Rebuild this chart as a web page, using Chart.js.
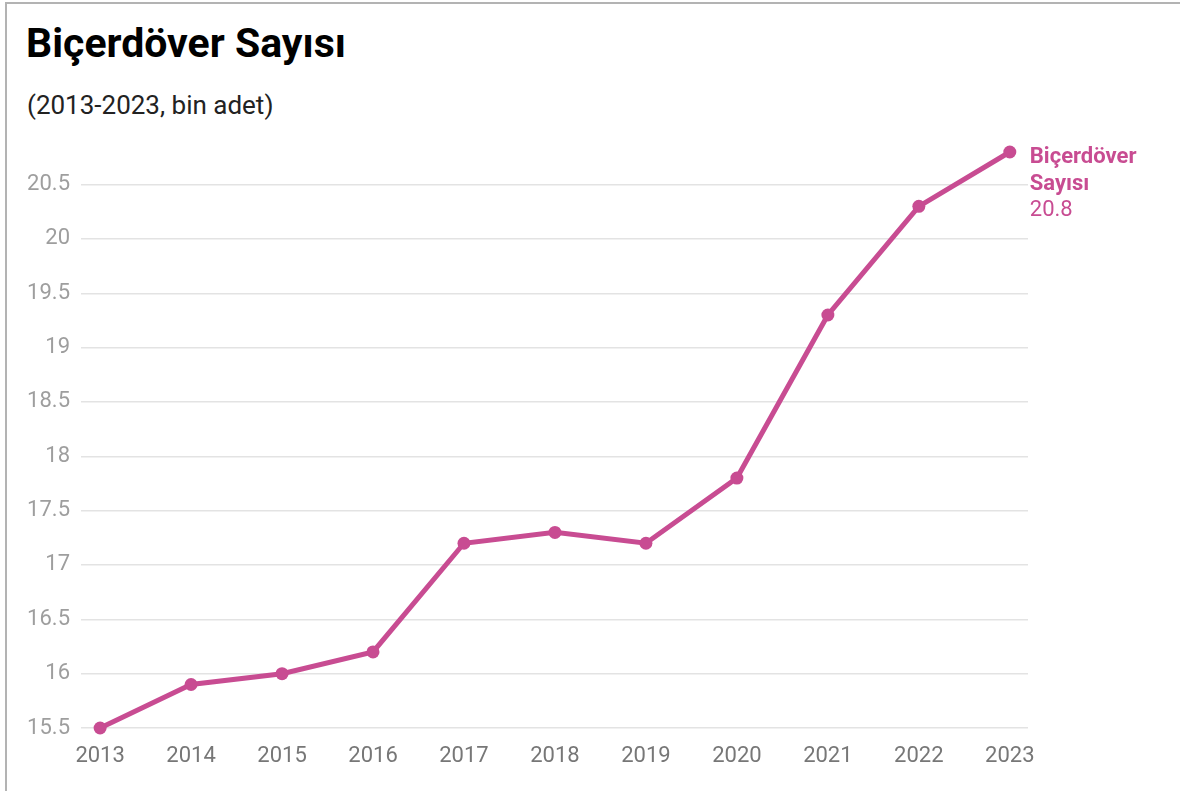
<!DOCTYPE html>
<html lang="tr">
<head>
<meta charset="utf-8">
<title>Biçerdöver Sayısı</title>
<script src="https://cdn.jsdelivr.net/npm/chart.js@4"></script>
<style>
  html, body { margin: 0; padding: 0; background: #fff; }
  body { width: 1180px; height: 791px; position: relative; overflow: hidden; font-family: Roboto, sans-serif; }
  .frame { position: absolute; left: 5px; top: 2px; right: -4px; bottom: -4px; border-left: 2px solid #b3b3b3; border-top: 2px solid #b3b3b3; }
  h1 { position: absolute; left: 26px; top: 23px; margin: 0; font-size: 41px; line-height: 1; font-weight: 700; color: #000; }
  .sub { position: absolute; left: 27px; top: 92px; margin: 0; font-size: 26px; line-height: 1; color: #222; }
  #wrap { position: absolute; left: 0; top: 0; width: 1180px; height: 791px; }
</style>
</head>
<body>
<div class="frame"></div>
<h1>Biçerdöver Sayısı</h1>
<p class="sub">(2013-2023, bin adet)</p>
<div id="wrap"><canvas id="chart"></canvas></div>
<script>
// yıllar ve değerler (bin adet)
const years = [2013, 2014, 2015, 2016, 2017, 2018, 2019, 2020, 2021, 2022, 2023];
const harvesters = [15.5, 15.9, 16.0, 16.2, 17.2, 17.3, 17.2, 17.8, 19.3, 20.3, 20.8];
const yTicks = [15.5, 16, 16.5, 17, 17.5, 18, 18.5, 19, 19.5, 20, 20.5];
const seriesName = ['Biçerdöver', 'Sayısı'];

const pink = '#c84c92';

// son noktanın yanına seri adı ve değeri
const endLabel = {
  id: 'endLabel',
  afterDatasetsDraw(chart) {
    const meta = chart.getDatasetMeta(0);
    const last = meta.data[meta.data.length - 1];
    const ctx = chart.ctx;
    ctx.save();
    ctx.fillStyle = pink;
    ctx.textAlign = 'left';
    ctx.textBaseline = 'middle';
    ctx.font = 'bold 22px Roboto';
    ctx.fillText(seriesName[0], last.x + 20, last.y + 5);
    ctx.fillText(seriesName[1], last.x + 20, last.y + 32);
    ctx.font = '22px Roboto';
    ctx.fillText(String(harvesters[harvesters.length - 1]), last.x + 20, last.y + 58);
    ctx.restore();
  }
};

new Chart(document.getElementById('chart'), {
  type: 'line',
  data: {
    datasets: [{
      data: years.map((y, i) => ({ x: y, y: harvesters[i] })),
      borderColor: pink,
      backgroundColor: pink,
      borderWidth: 5,
      pointRadius: 6.5,
      pointBackgroundColor: pink,
      pointBorderWidth: 0,
      tension: 0,
      clip: false
    }]
  },
  options: {
    responsive: true,
    maintainAspectRatio: false,
    animation: false,
    layout: { padding: { left: 0, right: 152, top: 152, bottom: 0 } },
    plugins: {
      legend: { display: false },
      tooltip: { enabled: false }
    },
    scales: {
      x: {
        type: 'linear',
        min: 2012.79,
        max: 2023.2,
        afterBuildTicks: s => { s.ticks = years.map(v => ({ value: v })); },
        afterFit: s => { s.height = 63; },
        grid: { display: false },
        border: { display: false },
        ticks: {
          color: '#777',
          font: { family: 'Roboto', size: 22 },
          padding: 7,
          maxRotation: 0,
          autoSkip: false,
          callback: v => String(v)
        }
      },
      y: {
        min: 15.5,
        max: 20.8,
        afterBuildTicks: s => { s.ticks = yTicks.map(v => ({ value: v })); },
        afterFit: s => { s.width = 81; },
        grid: { color: '#e3e3e3', lineWidth: 1.5, drawTicks: false },
        border: { display: false },
        ticks: {
          color: '#9e9e9e',
          font: { family: 'Roboto', size: 22 },
          padding: 11,
          callback: v => String(v)
        }
      }
    }
  },
  plugins: [endLabel]
});
</script>
</body>
</html>
